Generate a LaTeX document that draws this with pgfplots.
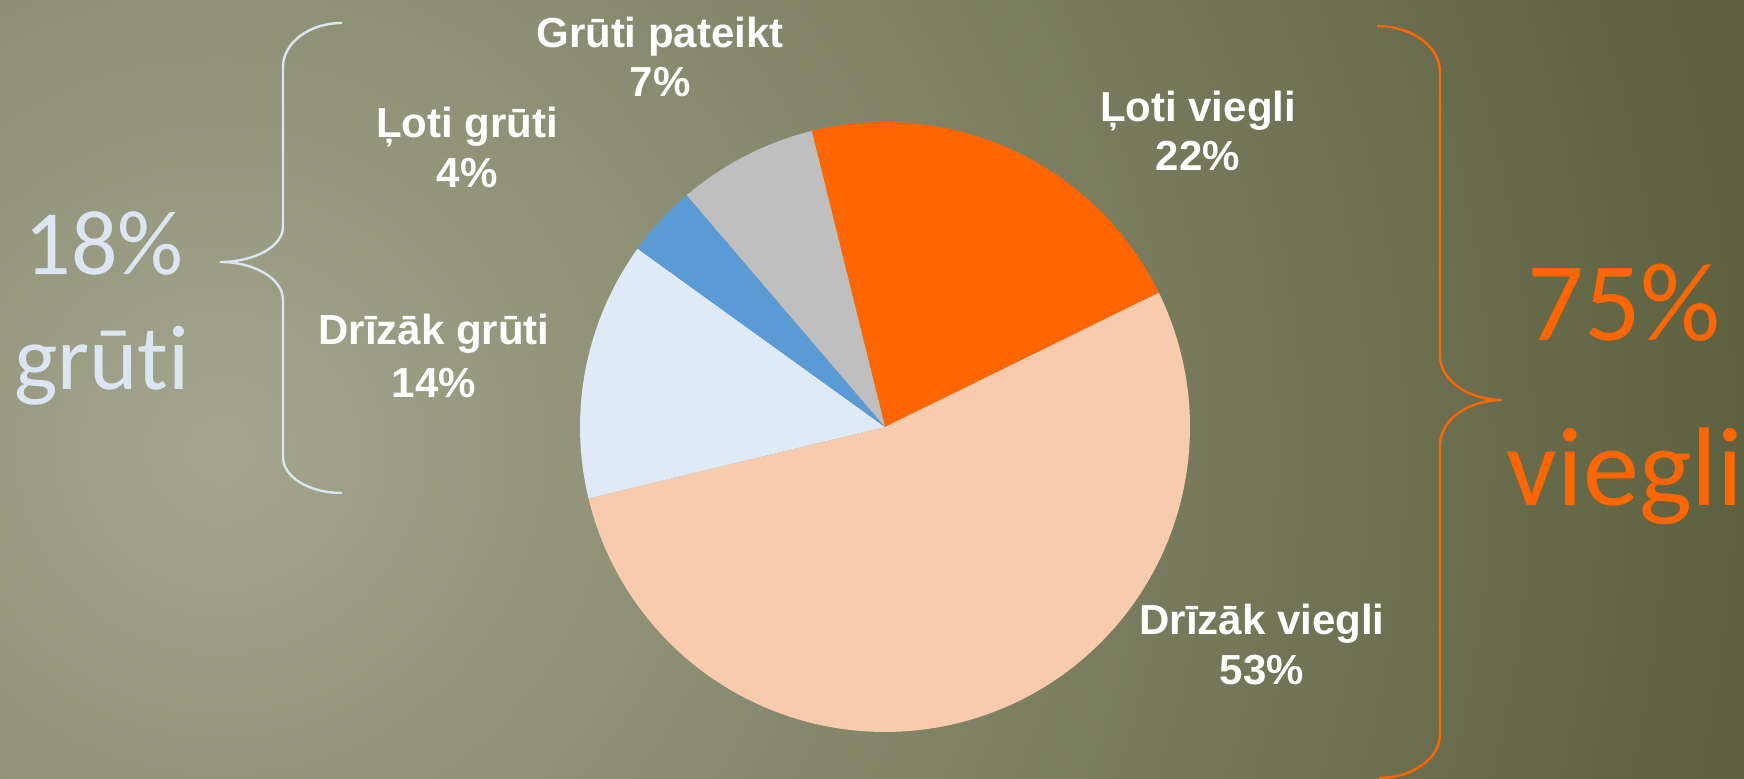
\documentclass[border=0pt]{standalone}
\usepackage{fontspec}
\setmainfont{Liberation Sans}
\newfontfamily\carl{Carlito}[Ligatures={NoCommon,NoDiscretionary,NoContextual}]
\usepackage{pgfplots}
\pgfplotsset{compat=1.18}
\definecolor{bgin}{HTML}{A3A58D}
\definecolor{bgout}{HTML}{5C603E}
\definecolor{cOrange}{HTML}{FF6600}
\definecolor{cPeach}{HTML}{F8CBAD}
\definecolor{cLBlue}{HTML}{DEEBF7}
\definecolor{cBlue}{HTML}{5B9BD5}
\definecolor{cGray}{HTML}{BFBFBF}
\definecolor{cBrace}{HTML}{DCE6F2}
\pgfdeclareradialshading{bgshade}{\pgfpointorigin}{color(0bp)=(bgin); color(25bp)=(bgout); color(50bp)=(bgout)}
% slice shares (percent), clockwise from the top
\def\pA{21.6}% Loti viegli
\def\pB{53.5}% Drizak viegli
\def\pC{13.7}% Drizak gruti
\def\pD{3.8}% Loti gruti
\def\pE{7.4}% Gruti pateikt
\pgfmathsetmacro\aZ{103.9}
\pgfmathsetmacro\aA{\aZ-3.6*\pA}
\pgfmathsetmacro\aB{\aA-3.6*\pB}
\pgfmathsetmacro\aC{\aB-3.6*\pC}
\pgfmathsetmacro\aD{\aC-3.6*\pD}
\pgfmathsetmacro\aE{\aD-3.6*\pE}
\def\cx{885}\def\cy{352}\def\rr{305}
\begin{document}
\begin{tikzpicture}
\begin{axis}[name=ax, hide axis, scale only axis, width=872pt, height=389.5pt,
  xmin=0, xmax=1744, ymin=0, ymax=779, clip=true]
\shade[shading=bgshade] (axis cs:-1330,-1221) rectangle (axis cs:1770,1879);
\addplot[fill=cOrange, draw=none, domain=\aA:\aZ, samples=60, variable=\t] ({\cx+\rr*cos(t)},{\cy+\rr*sin(t)}) -- (axis cs:\cx,\cy) -- cycle;
\addplot[fill=cPeach, draw=none, domain=\aB:\aA, samples=120, variable=\t] ({\cx+\rr*cos(t)},{\cy+\rr*sin(t)}) -- (axis cs:\cx,\cy) -- cycle;
\addplot[fill=cLBlue, draw=none, domain=\aC:\aB, samples=40, variable=\t] ({\cx+\rr*cos(t)},{\cy+\rr*sin(t)}) -- (axis cs:\cx,\cy) -- cycle;
\addplot[fill=cBlue, draw=none, domain=\aD:\aC, samples=15, variable=\t] ({\cx+\rr*cos(t)},{\cy+\rr*sin(t)}) -- (axis cs:\cx,\cy) -- cycle;
\addplot[fill=cGray, draw=none, domain=\aE:\aD, samples=25, variable=\t] ({\cx+\rr*cos(t)},{\cy+\rr*sin(t)}) -- (axis cs:\cx,\cy) -- cycle;
% braces
\draw[cBrace, line width=1.2pt] (axis cs:342,756) .. controls (axis cs:309,756) and (axis cs:283,736) .. (axis cs:283,712)
  -- (axis cs:283,552) .. controls (axis cs:283,533) and (axis cs:255,517) .. (axis cs:220,517)
  .. controls (axis cs:255,517) and (axis cs:283,500) .. (axis cs:283,479)
  -- (axis cs:283,322) .. controls (axis cs:283,302) and (axis cs:309,286) .. (axis cs:342,286);
\draw[cOrange, line width=1.2pt] (axis cs:1377,753) .. controls (axis cs:1412,753) and (axis cs:1440,732) .. (axis cs:1440,707)
  -- (axis cs:1440,423) .. controls (axis cs:1440,399) and (axis cs:1468,379) .. (axis cs:1502,379)
  .. controls (axis cs:1468,379) and (axis cs:1440,359) .. (axis cs:1440,334)
  -- (axis cs:1440,45) .. controls (axis cs:1440,20) and (axis cs:1412,1) .. (axis cs:1379,1);
% slice labels
\tikzset{lab/.style={anchor=base, text=white, inner sep=0pt, font=\fontsize{21}{25}\selectfont\bfseries}}
\node[lab] at (axis cs:660,731) {Grūti pateikt};
\node[lab] at (axis cs:660,682) {7\%};
\node[lab] at (axis cs:467,641) {Ļoti grūti};
\node[lab] at (axis cs:467,591) {4\%};
\node[lab] at (axis cs:434,434) {Drīzāk grūti};
\node[lab] at (axis cs:434,381) {14\%};
\node[lab] at (axis cs:1198,657) {Ļoti viegli};
\node[lab] at (axis cs:1198,608) {22\%};
\node[lab] at (axis cs:1262,144) {Drīzāk viegli};
\node[lab] at (axis cs:1262,94) {53\%};
% group labels
\node[anchor=base, text=cBrace, inner sep=0pt, font=\carl\fontsize{46}{55}\selectfont] at (axis cs:104,504) {18\%};
\node[anchor=base, text=cBrace, inner sep=0pt, font=\carl\fontsize{46}{55}\selectfont] at (axis cs:102,389) {grūti};
\node[anchor=base, text=cOrange, inner sep=0pt, font=\carl\fontsize{56}{67}\selectfont] at (axis cs:1624,438) {75\%};
\node[anchor=base, text=cOrange, inner sep=0pt, font=\carl\fontsize{56}{67}\selectfont] at (axis cs:1625,273) {viegli};
\end{axis}
\pgfresetboundingbox
\path[use as bounding box] (ax.south west) rectangle (ax.north east);
\end{tikzpicture}
\end{document}
